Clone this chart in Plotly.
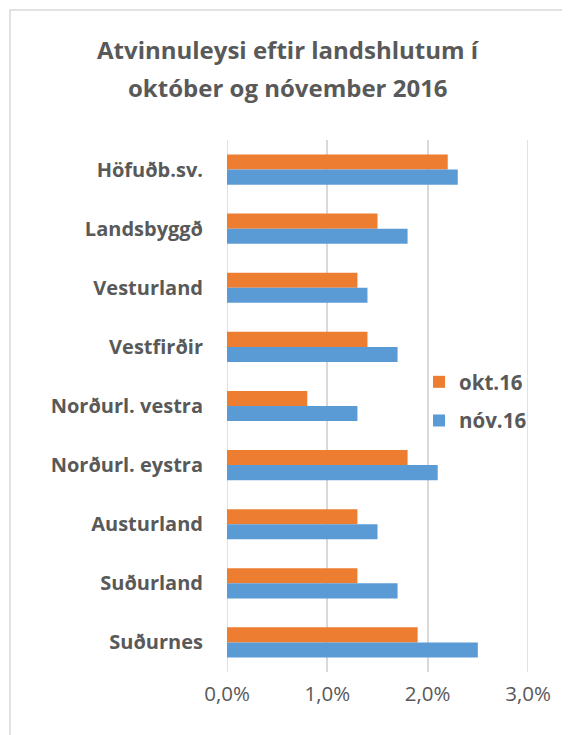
import plotly.graph_objects as go

categories = ["Höfuðb.sv.", "Landsbyggð", "Vesturland", "Vestfirðir", "Norðurl. vestra",
              "Norðurl. eystra", "Austurland", "Suðurland", "Suðurnes"]
okt16 = [0.022, 0.015, 0.013, 0.014, 0.008, 0.018, 0.013, 0.013, 0.019]
nov16 = [0.023, 0.018, 0.014, 0.017, 0.013, 0.021, 0.015, 0.017, 0.025]
x_ticks = [0, 0.01, 0.02, 0.03]
x_tick_labels = ["0,0%", "1,0%", "2,0%", "3,0%"]
title_lines = ["Atvinnuleysi eftir landshlutum í", "október og nóvember 2016"]

FONT = "Open Sans"
GREY = "#595959"
GRID = "#d9d9d9"

fig = go.Figure()
fig.add_trace(go.Bar(y=categories, x=okt16, name="<b>okt.16</b>", orientation="h", legendgroup="a",
                     marker=dict(color="#ED7D31", line=dict(width=0))))
fig.add_trace(go.Bar(y=categories, x=nov16, name="<b>nóv.16</b>", orientation="h", legendgroup="b",
                     marker=dict(color="#5B9BD5", line=dict(width=0))))

# page body has an 8px default margin; positions below are in figure pixels
W, H = 562, 727
L, R, T, B = 219, 42, 132, 63
pw, ph = W - L - R, H - T - B

def px(xp):
    return (xp - L) / pw

def py(yp):
    return (H - B - yp) / ph

annotations = [
    dict(text="<b>%s</b>" % t, xref="paper", yref="paper", x=px(280), y=py(yy),
         xanchor="center", yanchor="middle", showarrow=False,
         font=dict(size=24, color=GREY, family=FONT))
    for t, yy in zip(title_lines, [42, 79])
]

# edge grid lines (plotly drops grid lines lying on the plot-area border)
shapes = [dict(type="line", xref="x", yref="paper", x0=v, x1=v, y0=0, y1=1,
               line=dict(color=GRID, width=1.5), layer="below")
          for v in (x_ticks[0], x_ticks[-1])]
shapes.append(dict(type="rect", xref="paper", yref="paper",
                   x0=px(2), x1=px(620), y0=py(800), y1=py(2),
                   line=dict(color=GRID, width=1.5), fillcolor="rgba(0,0,0,0)", layer="below"))

fig.update_layout(
    width=W, height=H,
    margin=dict(l=L, r=R, t=T, b=B, autoexpand=False),
    paper_bgcolor="white", plot_bgcolor="white",
    barmode="group", bargap=0.49, bargroupgap=0,
    font=dict(family=FONT, color=GREY),
    annotations=annotations,
    xaxis=dict(range=[0, 0.03], tickvals=x_ticks, ticktext=x_tick_labels,
               showgrid=True, gridcolor=GRID, gridwidth=1.5,
               zeroline=False, showline=False, ticks="",
               tickfont=dict(size=20.5, color=GREY, family=FONT), ticklabelstandoff=7),
    yaxis=dict(categoryorder="array", categoryarray=categories, autorange="reversed",
               showgrid=False, zeroline=False, showline=False, ticks="",
               tickfont=dict(size=20, color=GREY, family=FONT), ticklabelstandoff=23,
               tickprefix="<b>", ticksuffix="</b>"),
    legend=dict(x=px(411), y=py(354), xanchor="left", yanchor="top",
                font=dict(size=20.5, color=GREY, family=FONT), bgcolor="rgba(0,0,0,0)",
                itemwidth=30, traceorder="grouped", tracegroupgap=9),
    shapes=shapes,
)

fig.write_html("out.html")
